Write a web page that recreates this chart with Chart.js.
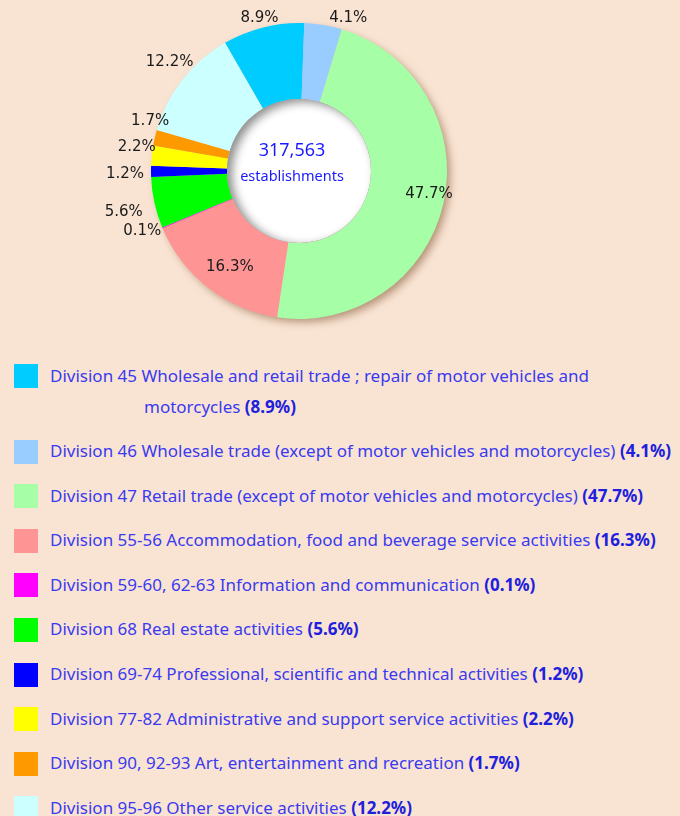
<!DOCTYPE html>
<html>
<head>
<meta charset="utf-8">
<script src="https://cdn.jsdelivr.net/npm/chart.js@4/dist/chart.umd.min.js"></script>
<style>
    html, body { margin: 0; padding: 0; background: #f9e4d3; }
    body { width: 680px; height: 816px; position: relative; overflow: hidden; font-family: "Noto Sans", sans-serif; }
    #chartBox { position: absolute; left: 0; top: 0; width: 680px; height: 335px; }
    #legend { position: absolute; left: 0; top: 359.5px; width: 680px; }
    .row { position: relative; margin-bottom: 13.6px; }
    .swatch { position: absolute; left: 14px; top: 4.5px; width: 24px; height: 24px; }
    .txt { margin-left: 50px; width: 630px; box-sizing: border-box; padding-left: 94px; text-indent: -94px;
           font-size: 17px; line-height: 31px; color: #3a3af0; }
    .txt b { color: #2020dd; }
</style>
</head>
<body>
<div id="chartBox"><canvas id="shareChart" width="680" height="335"></canvas></div>
<div id="legend"></div>

<script>
// Share of establishments by division
const divisions = [
    'Division 45 Wholesale and retail trade ; repair of motor vehicles and motorcycles',
    'Division 46 Wholesale trade (except of motor vehicles and motorcycles)',
    'Division 47 Retail trade (except of motor vehicles and motorcycles)',
    'Division 55-56 Accommodation, food and beverage service activities',
    'Division 59-60, 62-63 Information and communication',
    'Division 68 Real estate activities',
    'Division 69-74 Professional, scientific and technical activities',
    'Division 77-82 Administrative and support service activities',
    'Division 90, 92-93 Art, entertainment and recreation',
    'Division 95-96 Other service activities'
];
const shares = [8.9, 4.1, 47.7, 16.3, 0.1, 5.6, 1.2, 2.2, 1.7, 12.2];
const sliceColors = ['#00ccff', '#99ccff', '#a6ffa6', '#ff9494', '#ff00ff',
                     '#00ff00', '#0000ff', '#ffff00', '#ff9900', '#ccffff'];
const totalLabel = '317,563';
const totalCaption = 'establishments';

// label placement around the ring: angle nudge (deg) and distance from centre (px)
const labelNudge = [-0.5, 8.4, -2.7, -2, 1.6, -0.8, -0.9, 2.4, 5.5, 2];
const labelDist = [158, 161, 132, 118, 168, 180, 174, 164, 157, 169];

// legend
const legendEl = document.getElementById('legend');
divisions.forEach((name, i) => {
    const row = document.createElement('div');
    row.className = 'row';
    row.innerHTML = '<div class="swatch" style="background:' + sliceColors[i] + '"></div>' +
        '<div class="txt">' + name + ' <b>(' + shares[i].toFixed(1) + '%)</b></div>';
    legendEl.appendChild(row);
});

const ringDecor = {
    id: 'ringDecor',
    beforeDatasetsDraw(chart) {
        const arc = chart.getDatasetMeta(0).data[0];
        const ctx = chart.ctx;
        ctx.save();
        ctx.shadowColor = 'rgba(120,75,40,0.55)';
        ctx.shadowBlur = 8;
        ctx.shadowOffsetX = 4;
        ctx.shadowOffsetY = 4;
        ctx.fillStyle = '#d8c8b8';
        ctx.beginPath();
        ctx.arc(arc.x, arc.y, arc.outerRadius - 1, 0, Math.PI * 2);
        ctx.fill();
        ctx.restore();
    },
    afterDatasetsDraw(chart) {
        const meta = chart.getDatasetMeta(0);
        const first = meta.data[0];
        const ctx = chart.ctx;
        const cx = first.x, cy = first.y, r = first.innerRadius;

        // white hole with an inset shadow
        ctx.save();
        ctx.beginPath();
        ctx.arc(cx, cy, r, 0, Math.PI * 2);
        ctx.fillStyle = '#ffffff';
        ctx.fill();
        ctx.clip();
        ctx.beginPath();
        ctx.arc(cx, cy, r, 0, Math.PI * 2);
        ctx.arc(cx, cy, r + 40, 0, Math.PI * 2, true);
        ctx.shadowColor = 'rgba(0,0,0,0.45)';
        ctx.shadowBlur = 10;
        ctx.shadowOffsetX = 5;
        ctx.shadowOffsetY = 3;
        ctx.fillStyle = '#888';
        ctx.fill();
        ctx.restore();

        // slice labels
        ctx.save();
        ctx.font = '15px "DejaVu Sans"';
        ctx.fillStyle = '#1a1a1a';
        ctx.textAlign = 'center';
        ctx.textBaseline = 'middle';
        meta.data.forEach((el, i) => {
            const ang = (el.startAngle + el.endAngle) / 2 + labelNudge[i] * Math.PI / 180;
            ctx.fillText(shares[i].toFixed(1) + '%',
                el.x + labelDist[i] * Math.cos(ang),
                el.y + labelDist[i] * Math.sin(ang));
        });

        // centre text
        ctx.fillStyle = '#1a1aff';
        ctx.font = '18px "Noto Sans"';
        ctx.fillText(totalLabel, cx - 7, cy - 20);
        ctx.font = '14.5px "Noto Sans"';
        ctx.fillText(totalCaption, cx - 7, cy + 6);
        ctx.restore();
    }
};

new Chart(document.getElementById('shareChart'), {
    type: 'doughnut',
    data: {
        labels: divisions,
        datasets: [{
            data: shares,
            backgroundColor: sliceColors,
            borderWidth: 0,
            hoverOffset: 0
        }]
    },
    options: {
        responsive: false,
        animation: false,
        rotation: -30,
        radius: 148,
        cutout: 72,
        layout: { padding: { left: 151, right: 233, top: 23, bottom: 16 } },
        plugins: {
            legend: { display: false },
            tooltip: { enabled: false }
        }
    },
    plugins: [ringDecor]
});
</script>
</body>
</html>
